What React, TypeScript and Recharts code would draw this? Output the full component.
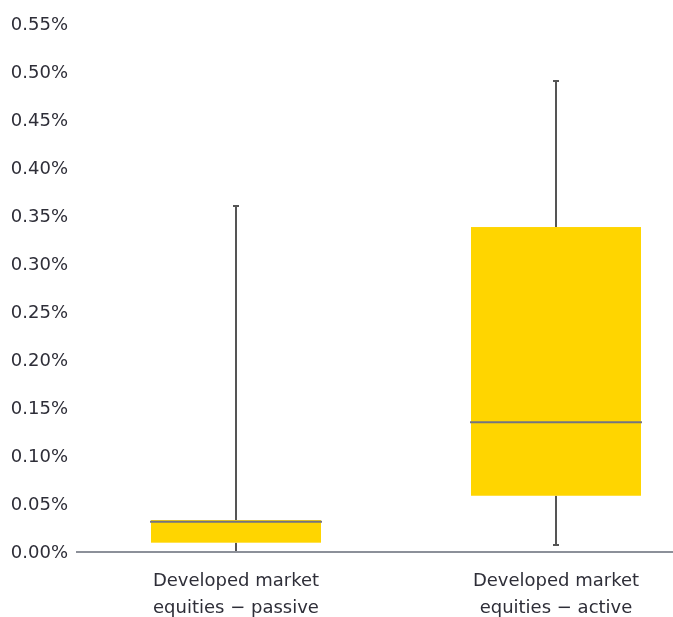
import React from 'react';
import { BarChart, Bar, XAxis, YAxis } from 'recharts';

const categories = ['Developed market\nequities − passive', 'Developed market\nequities − active'];
const mins = [0, 0.0073];
const q1s = [0.0097, 0.0586];
const medians = [0.0316, 0.1351];
const q3s = [0.0333, 0.3385];
const maxes = [0.3604, 0.4906];
const yTicks = [0, 0.05, 0.1, 0.15, 0.2, 0.25, 0.3, 0.35, 0.4, 0.45, 0.5, 0.55];

const data = categories.map((c, i) => ({
  name: c,
  base: mins[i],
  lowW: q1s[i] - mins[i],
  boxLow: medians[i] - q1s[i],
  boxHigh: q3s[i] - medians[i],
  upW: maxes[i] - q3s[i],
  min: mins[i],
}));

const FONT = 'DejaVu Sans';
const TEXT = '#2e2e38';
const YELLOW = '#FFD500';
const WHISKER = '#555555';
const MEDIAN = '#747480';
const FS = 18;

const Empty = () => null;

const LowWhisker = (p: any) => {
  const { x, y, width, height, payload } = p;
  if (height == null || isNaN(height)) return null;
  const cx = x + width / 2;
  return (
    <g>
      <line x1={cx} x2={cx} y1={y} y2={y + height} stroke={WHISKER} strokeWidth={2} />
      {payload.min > 0 && (
        <line x1={cx - 3} x2={cx + 3} y1={y + height} y2={y + height} stroke={WHISKER} strokeWidth={2} />
      )}
    </g>
  );
};

const UpWhisker = (p: any) => {
  const { x, y, width, height } = p;
  if (height == null || isNaN(height)) return null;
  const cx = x + width / 2;
  return (
    <g>
      <line x1={cx} x2={cx} y1={y} y2={y + height} stroke={WHISKER} strokeWidth={2} />
      <line x1={cx - 3} x2={cx + 3} y1={y} y2={y} stroke={WHISKER} strokeWidth={2} />
    </g>
  );
};

const BoxLow = (p: any) => {
  const { x, y, width, height } = p;
  if (height == null || isNaN(height)) return null;
  return <rect x={x} y={y} width={width} height={height} fill={YELLOW} />;
};

const BoxHigh = (p: any) => {
  const { x, y, width, height } = p;
  if (height == null || isNaN(height)) return null;
  return (
    <g>
      <rect x={x} y={y} width={width} height={height} fill={YELLOW} />
      <line x1={x - 1} x2={x + width + 1} y1={y + height} y2={y + height} stroke={MEDIAN} strokeWidth={2} />
    </g>
  );
};

const XTick = (p: any) => {
  const { x, y, payload } = p;
  const lines = String(payload.value).split('\n');
  return (
    <text x={x} y={y} textAnchor="middle" fill={TEXT} fontSize={FS} fontFamily={FONT}>
      {lines.map((l, i) => (
        <tspan key={i} x={x} dy={i === 0 ? 34 : 27}>
          {l}
        </tspan>
      ))}
    </text>
  );
};

export default function App() {
  return (
    <div style={{ position: 'fixed', top: 8, left: 8, width: 665, height: 609, overflow: 'hidden' }}>
      <BarChart
        width={708}
        height={609}
        data={data}
        margin={{ top: 16, right: 0, bottom: 0, left: 0 }}
        barCategoryGap={0}
      >
        <YAxis
          type="number"
          domain={[0, 0.55]}
          ticks={yTicks}
          width={68}
          axisLine={false}
          tickLine={false}
          tickSize={0}
          tickMargin={8}
          interval={0}
          tickFormatter={(v: number) => v.toFixed(2) + '%'}
          tick={{ fill: TEXT, fontSize: FS, fontFamily: FONT }}
        />
        <Bar dataKey="base" stackId="s" barSize={170} shape={Empty} isAnimationActive={false} />
        <Bar dataKey="lowW" stackId="s" barSize={170} shape={LowWhisker} isAnimationActive={false} />
        <Bar dataKey="boxLow" stackId="s" barSize={170} shape={BoxLow} isAnimationActive={false} />
        <Bar dataKey="boxHigh" stackId="s" barSize={170} shape={BoxHigh} isAnimationActive={false} />
        <Bar dataKey="upW" stackId="s" barSize={170} shape={UpWhisker} isAnimationActive={false} />
        <XAxis
          dataKey="name"
          height={65}
          interval={0}
          tickLine={false}
          tickSize={0}
          tickMargin={0}
          axisLine={{ stroke: '#8c9099', strokeWidth: 2 }}
          tick={<XTick />}
        />
      </BarChart>
    </div>
  );
}
